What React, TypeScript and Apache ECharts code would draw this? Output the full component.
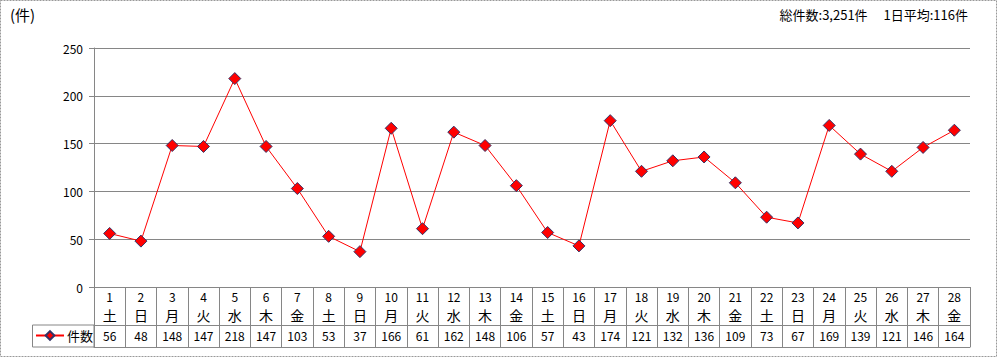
import React, { useEffect, useRef } from "react";
import * as echarts from "echarts";

const days = ["1","2","3","4","5","6","7","8","9","10","11","12","13","14","15","16","17","18","19","20","21","22","23","24","25","26","27","28"];
const weekdays = ["土","日","月","火","水","木","金","土","日","月","火","水","木","金","土","日","月","火","水","木","金","土","日","月","火","水","木","金"];
const counts = [56,48,148,147,218,147,103,53,37,166,61,162,148,106,57,43,174,121,132,136,109,73,67,169,139,121,146,164];
const seriesName = "件数";
const yTicks = { min: 0, max: 250, interval: 50 };

const FONT = "'Noto Sans CJK JP', 'Noto Sans', sans-serif";
const GRID = "#868686";

export default function App() {
  const ref = useRef<HTMLDivElement>(null);
  useEffect(() => {
    document.body.style.margin = "0";
    const chart = echarts.init(ref.current!, null, { renderer: "svg" });
    const total = counts.reduce((a, b) => a + b, 0);
    const avg = Math.round(total / counts.length);
    const cats = days.map((d, i) => "{d|" + d + "}\n{w|" + weekdays[i] + "}");
    chart.setOption({
      animation: false,
      backgroundColor: "#fff",
      textStyle: { fontFamily: FONT },
      grid: { left: 94, right: 28, top: 48, bottom: 71, containLabel: false },
      legend: {
        left: 35,
        top: 329,
        padding: 0,
        itemWidth: 28,
        itemHeight: 11,
        itemGap: 4,
        textStyle: { fontSize: 13, color: "#000", fontFamily: FONT, padding: [0, 0, 0, -2] },
        data: [seriesName],
      },
      xAxis: [
        {
          type: "category",
          data: cats,
          boundaryGap: true,
          axisLine: { show: true, lineStyle: { color: GRID } },
          axisTick: { show: true, interval: 0, length: 60, lineStyle: { color: GRID } },
          axisLabel: {
            interval: 0,
            margin: 0,
            color: "#000",
            fontFamily: FONT,
            rich: {
              d: { fontSize: 12, lineHeight: 18, fontFamily: FONT, color: "#000" },
              w: { fontSize: 14, lineHeight: 20, fontFamily: FONT, color: "#000" },
            },
          },
          splitLine: { show: false },
        },
        {
          type: "category",
          data: counts.map(String),
          position: "bottom",
          offset: 38,
          boundaryGap: true,
          axisLine: { show: true, lineStyle: { color: GRID } },
          axisTick: { show: false },
          axisLabel: { interval: 0, margin: 4, fontSize: 12, color: "#000", fontFamily: FONT },
        },
        {
          type: "category",
          data: days,
          position: "bottom",
          offset: 60,
          axisLine: { show: true, lineStyle: { color: GRID } },
          axisTick: { show: false },
          axisLabel: { show: false },
        },
      ],
      yAxis: {
        type: "value",
        min: yTicks.min,
        max: yTicks.max,
        interval: yTicks.interval,
        axisLine: { show: true, lineStyle: { color: GRID } },
        axisTick: { show: true, length: 5, lineStyle: { color: GRID } },
        axisLabel: { margin: 11, fontSize: 12, color: "#000", fontFamily: FONT },
        splitLine: { show: true, lineStyle: { color: GRID, width: 1 } },
      },
      series: [
        {
          name: seriesName,
          type: "line",
          data: counts,
          symbol: "diamond",
          symbolSize: 12,
          itemStyle: { color: "#ff0000", borderColor: "#333366", borderWidth: 1 },
          lineStyle: { color: "#ff0000", width: 1 },
        },
      ],
      graphic: [
        {
          type: "rect",
          shape: { x: 0.5, y: 0.5, width: 996, height: 356 },
          style: { fill: "none", stroke: "#999", lineWidth: 1, lineDash: [2, 1] },
          silent: true,
        },
        {
          type: "rect",
          shape: { x: 32.5, y: 325, width: 61.5, height: 22 },
          style: { fill: "none", stroke: GRID, lineWidth: 1 },
          silent: true,
        },
        {
          type: "text",
          left: 10,
          top: 7,
          style: { text: "(件)", fontSize: 15, fill: "#000", fontFamily: FONT },
        },
        {
          type: "text",
          right: 30,
          top: 8,
          style: {
            text: "総件数:" + total.toLocaleString("en-US") + "件　 1日平均:" + avg + "件",
            fontSize: 13,
            fill: "#000",
            fontFamily: FONT,
          },
        },
      ],
    });
    return () => chart.dispose();
  }, []);
  return <div ref={ref} style={{ width: 998, height: 358 }} />;
}
